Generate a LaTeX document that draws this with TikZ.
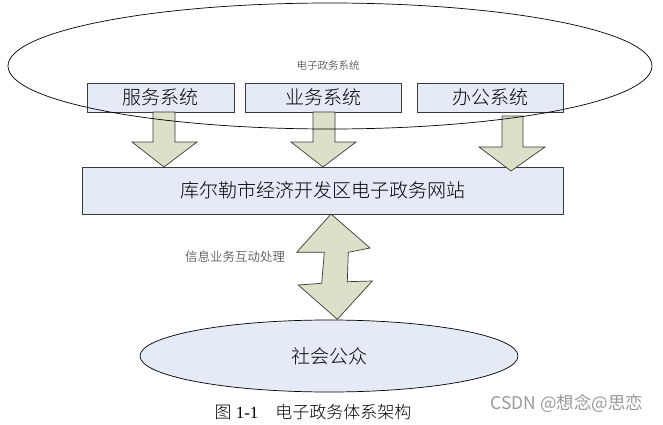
\documentclass[tikz,border=0pt]{standalone}
\usepackage{fontspec}
\setmainfont{Liberation Serif}
\newfontfamily\cjk{Noto Sans CJK SC}[UprightFont={* Light}]
\newfontfamily\cjkreg{Noto Sans CJK SC}
\usetikzlibrary{shapes.geometric}
\definecolor{boxfill}{HTML}{E4EBF6}
\definecolor{arrowfill}{HTML}{DCE0C8}
\definecolor{edge}{HTML}{3A3A3A}
\tikzset{
  sysbox/.style={draw=edge, fill=boxfill, line width=0.8pt, inner sep=0pt, minimum height=29pt, font=\cjk\fontsize{19}{19}\selectfont},
  blockarrow/.style={draw=edge, fill=arrowfill, line width=0.7pt, line join=miter},
  oval/.style={ellipse, draw=black, line width=0.7pt, inner sep=0pt}
}
\begin{document}
\begin{tikzpicture}[x=1pt,y=-1pt]
\useasboundingbox (0,0) rectangle (663,425);
% boxes
\node[sysbox, minimum width=147pt] (fw) at (160.5,97.5) {服务系统};
\node[sysbox, minimum width=156pt] (yw) at (323,97.5) {业务系统};
\node[sysbox, minimum width=146pt] (bg) at (490,97.5) {办公系统};
\node[sysbox, minimum width=481pt, minimum height=47pt] (site) at (322.5,190.5) {库尔勒市经济开发区电子政务网站};
% down arrows
\draw[blockarrow] (153,112) -- (153,142) -- (132,142) -- (164,167) -- (197,142) -- (175,142) -- (175,112) -- cycle;
\draw[blockarrow] (313,112) -- (313,142) -- (291,142) -- (323,167) -- (356,142) -- (335,142) -- (335,112) -- cycle;
\draw[blockarrow] (502,116) -- (502,147) -- (479,147) -- (511,171) -- (545,147) -- (523,147) -- (523,116) -- cycle;
% big ellipse outline on top
\node[oval, minimum width=644pt, minimum height=126pt] (sys) at (330,66) {};
\node[font=\cjk\fontsize{10.5}{10.5}\selectfont, text=black!85] (syslabel) at (328,66) {电子政务系统};
% public ellipse
\node[oval, fill=boxfill, minimum width=378pt, minimum height=72pt, font=\cjk\fontsize{19}{19}\selectfont] (pub) at (329,356) {社会公众};
% double arrow
\draw[blockarrow] (331,214) -- (370,248) -- (348.3,252.3) -- (347.3,281.7) -- (372.3,281) -- (337.3,319.3) -- (298.3,285) -- (321.7,283.3) -- (324.3,252.3) -- (296.7,252.3) -- cycle;
\node[font=\cjk\fontsize{12.5}{12.5}\selectfont, text=black!85] (inter) at (235,257) {信息业务互动处理};
% caption
\node[font=\fontsize{17}{17}\selectfont] (cap) at (313,412) {{\cjk 图} 1-1\hspace{1em}{\cjk 电子政务体系架构}};
\node[font=\cjkreg\fontsize{17.5}{17.5}\selectfont, text=black!40] (wm) at (567,404) {CSDN @想念@思恋};
\end{tikzpicture}
\end{document}
